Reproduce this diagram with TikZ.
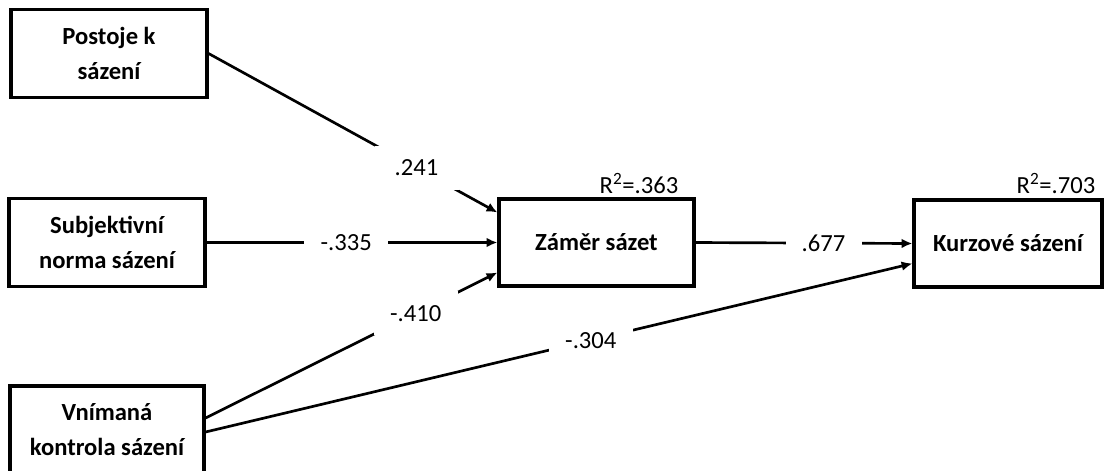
\documentclass[tikz,border=0pt]{standalone}
\usepackage{fontspec}
\setmainfont{Carlito}
\usetikzlibrary{arrows.meta}

\begin{document}
\begin{tikzpicture}[x=0.025cm, y=-0.025cm, every node/.style={font=\fontsize{17.5}{25}\selectfont}, >={Latex[length=2.7mm,width=2.4mm]},
	box/.style={draw, line width=2.2pt, inner sep=0pt, align=center, font=\fontsize{17.5}{25}\selectfont\bfseries},
	coef/.style={fill=white, inner sep=0pt, minimum width=2.1cm, minimum height=1.1cm},
	path/.style={line width=1.9pt}]
	\useasboundingbox (0,0) rectangle (1107,470);
	\node[box, minimum width=4.9cm, minimum height=2.2cm] (post) at (109,53.5) {Postoje k\\sázení};
	\node[box, minimum width=4.9cm, minimum height=2.2cm] (subj) at (107,242.5) {Subjektivní\\norma sázení};
	\node[box, minimum width=4.85cm, minimum height=2.2cm] (vnim) at (107,430) {Vnímaná\\kontrola sázení};
	\node[box, minimum width=4.875cm, minimum height=2.175cm] (zamer) at (596.5,242.5) {Záměr sázet};
	\node[box, minimum width=4.7cm, minimum height=2.175cm] (kurz) at (1008,243.5) {Kurzové sázení};
	\node[anchor=base] (r2zamer) at (639,193) {R\textsuperscript{2}=.363};
	\node[anchor=base] (r2kurz) at (1056,193) {R\textsuperscript{2}=.703};
	\draw[path, ->] (post.east) -- node[coef, pos=.72] {.241} ([yshift=0.75cm]zamer.west);
	\draw[path, ->] (subj.east) -- node[coef, pos=.48, minimum height=0.6cm] {-.335} (zamer.west);
	\draw[path, ->] ([yshift=0.3cm]vnim.east) -- node[coef, pos=.72] {-.410} ([yshift=-0.75cm]zamer.west);
	\draw[path, ->] (zamer.east) -- node[coef, pos=.59, minimum width=1.9cm, minimum height=0.6cm] {.677} (kurz.west);
	\draw[path, ->] ([yshift=-0.05cm]vnim.east) -- node[coef, pos=.545, minimum height=0.7cm] {-.304} ([yshift=-0.5cm]kurz.west);
\end{tikzpicture}
\end{document}
